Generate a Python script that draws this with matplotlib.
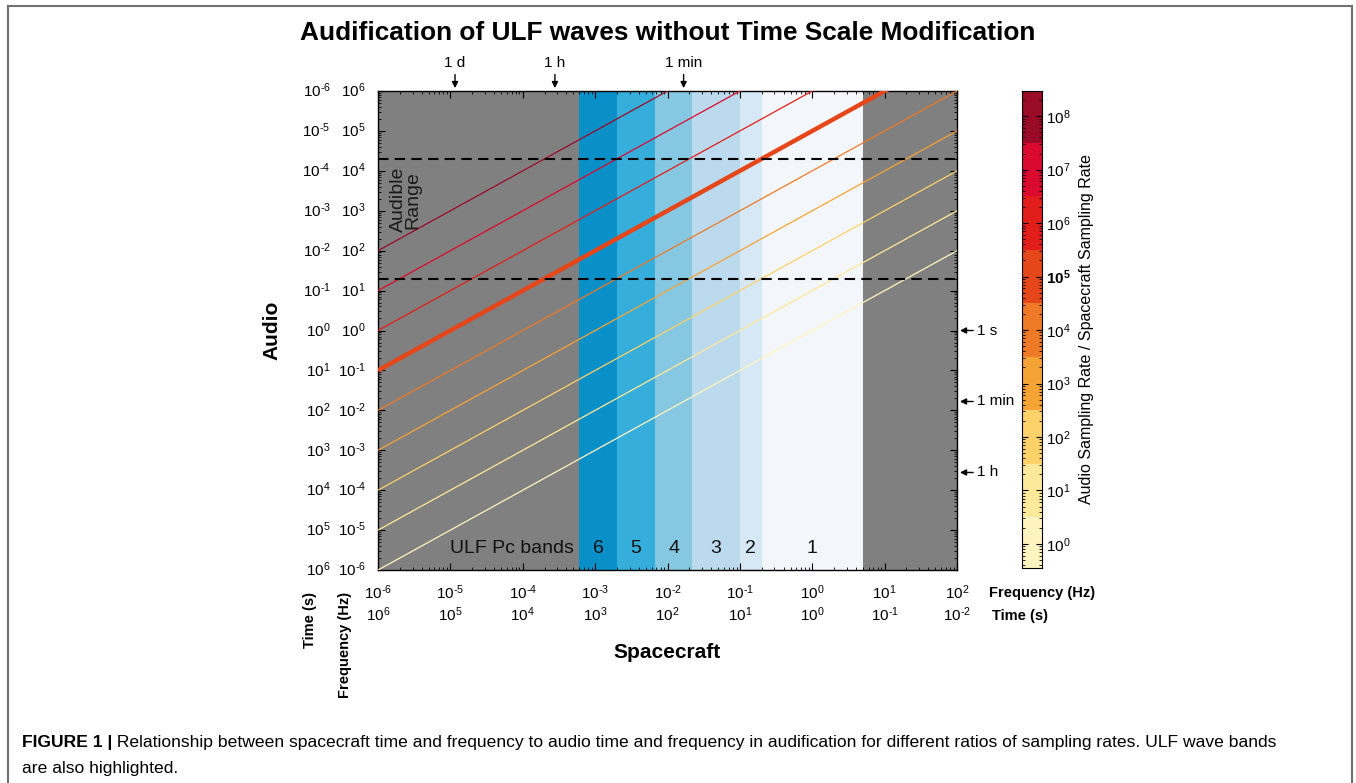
import numpy as np
import matplotlib
matplotlib.use("Agg")
import matplotlib.pyplot as plt
from matplotlib.lines import Line2D
from matplotlib.ticker import LogLocator, NullFormatter

plt.rcParams["font.family"] = ["Liberation Sans", "DejaVu Sans"]
plt.rcParams["mathtext.fontset"] = "custom"
plt.rcParams["mathtext.rm"] = "Liberation Sans"
plt.rcParams["mathtext.it"] = "Liberation Sans:italic"
plt.rcParams["mathtext.bf"] = "Liberation Sans:bold"

# Poměry vzorkovacích frekvencí (exponenty) a jejich barvy
ratio_exp = [0, 1, 2, 3, 4, 5, 6, 7, 8]
ratio_colors = ["#FFF3BF", "#FEE89A", "#FCD16A", "#F6A336", "#EE7A27",
                "#E5461A", "#E21E1A", "#DA0A2E", "#9A0B28"]
highlight_exp = 5

# ULF Pc pásma (hranice v Hz)
band_names = ["6", "5", "4", "3", "2", "1"]
band_edges = [6e-4, 2e-3, 6.7e-3, 2.2e-2, 1e-1, 2e-1, 5.0]
band_colors = ["#0A90C8", "#35AEDB", "#86C8E2", "#BCDAEE", "#D6E7F6", "#F3F7FC"]

# Slyšitelný rozsah (Hz)
audible = [20, 20000]

# Značky časů
top_labels = ["1 d", "1 h", "1 min"]
top_seconds = [86400, 3600, 60]
right_labels = ["1 s", "1 min", "1 h"]
right_seconds = [1, 60, 3600]

x_exp = list(range(-6, 3))
y_exp = list(range(-6, 7))

fig = plt.figure(figsize=(13.56, 7.83), dpi=100)
ax = fig.add_axes([0.2788, 0.2720, 0.4270, 0.6118])
ax.set_facecolor("#808080")
ax.set_xscale("log")
ax.set_yscale("log")
ax.set_xlim(1e-6, 1e2)
ax.set_ylim(1e-6, 1e6)

# pásma
for i in range(len(band_names)):
    ax.axvspan(band_edges[i], band_edges[i + 1], color=band_colors[i], lw=0, zorder=1)
    xc = np.sqrt(band_edges[i] * band_edges[i + 1])
    ax.text(xc, 0.045, band_names[i], transform=ax.get_xaxis_transform(),
            ha="center", va="center", fontsize=14, color="#111111", zorder=5)
ax.text(band_edges[0] * 0.85, 0.045, "ULF Pc bands", transform=ax.get_xaxis_transform(),
        ha="right", va="center", fontsize=14, color="#111111", zorder=5)

# čáry poměrů
xx = np.array([1e-6, 1e2])
for e, c in zip(ratio_exp, ratio_colors):
    lw = 3.2 if e == highlight_exp else 0.9
    ax.plot(xx, xx * 10.0 ** e, color=c, lw=lw, zorder=3, solid_capstyle="butt")

# slyšitelný rozsah
for a in audible:
    ax.axhline(a, color="black", lw=1.5, ls=(0, (5, 3)), zorder=4)
ax.text(2.4e-6, 1.9e3, "Audible\nRange", rotation=90,
        ha="center", va="center", fontsize=14, color="#1a1a1a", linespacing=0.85, zorder=5)

# osy a tiky
ax.tick_params(which="both", direction="in", top=True, right=True, color="black")
ax.tick_params(which="major", length=5, width=0.8)
ax.tick_params(which="minor", length=2.5, width=0.6)
ax.xaxis.set_major_locator(LogLocator(base=10, numticks=20))
ax.xaxis.set_minor_locator(LogLocator(base=10, subs=np.arange(2, 10), numticks=20))
ax.yaxis.set_major_locator(LogLocator(base=10, numticks=20))
ax.yaxis.set_minor_locator(LogLocator(base=10, subs=np.arange(2, 10), numticks=20))
ax.set_xticklabels([])
ax.set_yticklabels([])
ax.xaxis.set_minor_formatter(NullFormatter())
ax.yaxis.set_minor_formatter(NullFormatter())
for s in ax.spines.values():
    s.set_linewidth(1.0)

def pw(e):
    # krátký spojovník místo dlouhého minus
    return r"$10^{%s}$" % str(e).replace("-", "\u2010")

# popisky os - vlevo
ytr = ax.get_yaxis_transform()
for e in y_exp:
    ax.text(-0.021, 10.0 ** e, pw(e), transform=ytr, ha="right", va="center", fontsize=11)
    ax.text(-0.082, 10.0 ** e, pw(-e), transform=ytr, ha="right", va="center", fontsize=11)

# popisky os - dole
xtr = ax.get_xaxis_transform()
for e in x_exp:
    ax.text(10.0 ** e, -0.047, pw(e), transform=xtr, ha="center", va="center", fontsize=11)
    ax.text(10.0 ** e, -0.094, pw(-e), transform=xtr, ha="center", va="center", fontsize=11)
ax.text(1.056, -0.047, "Frequency (Hz)", transform=ax.transAxes, ha="left", va="center",
        fontsize=10.5, fontweight="bold")
ax.text(1.060, -0.097, "Time (s)", transform=ax.transAxes, ha="left", va="center",
        fontsize=10.5, fontweight="bold")

fig.text(310 / 1356, 1 - 592 / 783, "Time (s)", rotation=90, ha="center", va="top",
         fontsize=10.5, fontweight="bold")
fig.text(345 / 1356, 1 - 592 / 783, "Frequency (Hz)", rotation=90, ha="center", va="top",
         fontsize=10.5, fontweight="bold")
fig.text(272 / 1356, 1 - 330 / 783, "Audio", rotation=90, ha="center", va="center",
         fontsize=15, fontweight="bold")
fig.text(667 / 1356, 1 - 652 / 783, "Spacecraft", ha="center", va="center",
         fontsize=15, fontweight="bold")
fig.text(668 / 1356, 1 - 33 / 783, "Audification of ULF waves without Time Scale Modification",
         ha="center", va="center", fontsize=18.9, fontweight="bold")

# šipky nahoře
for lab, sec in zip(top_labels, top_seconds):
    ax.annotate(lab, xy=(1.0 / sec, 1.006), xycoords=xtr,
                xytext=(1.0 / sec, 1.043), textcoords=xtr, ha="center", va="bottom",
                fontsize=11, arrowprops=dict(arrowstyle="-|>", color="black", lw=1.0,
                                             mutation_scale=9, shrinkA=1, shrinkB=0))

# šipky vpravo
for lab, sec in zip(right_labels, right_seconds):
    ax.annotate(lab, xy=(1.005, 1.0 / sec), xycoords=ytr,
                xytext=(1.035, 1.0 / sec), textcoords=ytr, ha="left", va="center",
                fontsize=11, arrowprops=dict(arrowstyle="-|>", color="black", lw=1.0,
                                             mutation_scale=9, shrinkA=1, shrinkB=0))

# barevná škála
cax = fig.add_axes([0.7537, 1 - 568 / 783, 0.01475, (568 - 91) / 783])
cax.set_yscale("log")
lo, hi = 10 ** -0.45, 10 ** 8.47
cax.set_ylim(lo, hi)
cax.set_xlim(0, 1)
for e, c in zip(ratio_exp, ratio_colors):
    cax.axhspan(10 ** (e - 0.5), 10 ** (e + 0.5), color=c, lw=0)
cax.set_xticks([])
cax.yaxis.tick_right()
cax.yaxis.set_major_locator(LogLocator(base=10, numticks=20))
cax.yaxis.set_minor_locator(LogLocator(base=10, subs=np.arange(2, 10), numticks=20))
cax.yaxis.set_minor_formatter(NullFormatter())
cax.set_yticks([10.0 ** e for e in ratio_exp])
cax.set_yticklabels([r"$\mathbf{10^{%d}}$" % e if e == highlight_exp else pw(e) for e in ratio_exp],
                    fontsize=11)
cax.tick_params(which="both", direction="in", left=True, right=True, color="black")
cax.tick_params(which="major", length=4, width=0.8, pad=3)
cax.tick_params(which="minor", length=2, width=0.6)
cax.set_ylim(lo, hi)
cax.set_ylabel("Audio Sampling Rate / Spacecraft Sampling Rate", fontsize=11.5, labelpad=6)
cax.yaxis.set_label_position("right")

# rámeček obrázku
W, H = 1356.0, 783.0
for (x0, y0, x1, y1) in [(8, 6, 1352, 6), (8, 6, 8, 783), (1352, 6, 1352, 783)]:
    fig.add_artist(Line2D([x0 / W, x1 / W], [1 - y0 / H, 1 - y1 / H], color="#707070", lw=1.5))

# popisek obrázku
over = fig.add_axes([0, 0, 1, 1], facecolor="none")
over.set_axis_off()
t1 = over.text(22 / W, 1 - 742 / H, "FIGURE 1 |", ha="left", va="center",
               fontsize=12.6, fontweight="bold")
over.annotate(" Relationship between spacecraft time and frequency to audio time and frequency in "
              "audification for different ratios of sampling rates. ULF wave bands",
              xy=(1, 0.5), xycoords=t1, ha="left", va="center", fontsize=12.6)
over.text(22 / W, 1 - 768 / H, "are also highlighted.", ha="left", va="center", fontsize=12.6)

fig.savefig("out.png", dpi=100)
